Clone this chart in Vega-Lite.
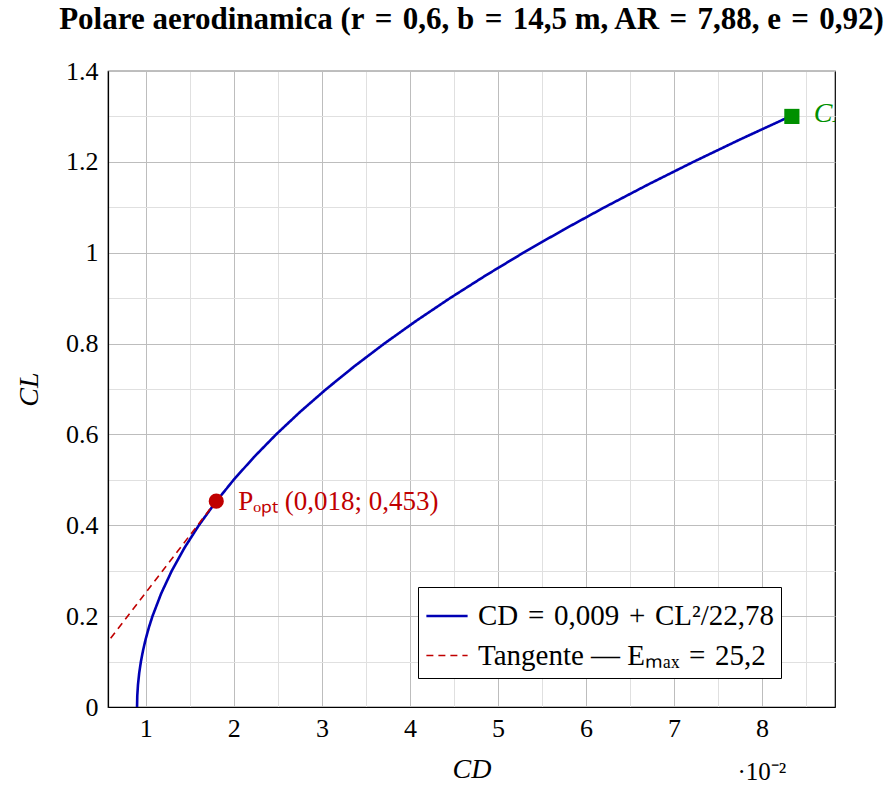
{
  "$schema": "https://vega.github.io/schema/vega-lite/v6.json",
  "autosize": {"type": "none"},
  "padding": {"left": 108, "top": 71, "right": 60, "bottom": 78},
  "width": 727,
  "height": 636,
  "background": "white",
  "config": {
    "font": "Liberation Serif",
    "view": {"stroke": "black", "strokeWidth": 1.2},
    "axis": {"labelFont": "Liberation Serif", "titleFont": "Liberation Serif"}
  },
  "title": {
    "text": "Polare aerodinamica (r\u2004=\u20040,6, b\u2004=\u200414,5 m, AR\u2004=\u20047,88, e\u2004=\u20040,92)",
    "font": "Liberation Serif",
    "fontSize": 31,
    "fontWeight": "bold",
    "anchor": "middle",
    "offset": 22,
    "color": "black",
    "limit": 0
  },
  "datasets": {
    "curves": [
      {"series": "CD\u2004=\u20040,009\u2004+\u2004CL²/22,78", "CL": 0, "CD": 0.009},
      {"series": "CD\u2004=\u20040,009\u2004+\u2004CL²/22,78", "CL": 0.025, "CD": 0.009027},
      {"series": "CD\u2004=\u20040,009\u2004+\u2004CL²/22,78", "CL": 0.05, "CD": 0.00911},
      {"series": "CD\u2004=\u20040,009\u2004+\u2004CL²/22,78", "CL": 0.075, "CD": 0.009247},
      {"series": "CD\u2004=\u20040,009\u2004+\u2004CL²/22,78", "CL": 0.1, "CD": 0.009439},
      {"series": "CD\u2004=\u20040,009\u2004+\u2004CL²/22,78", "CL": 0.125, "CD": 0.009686},
      {"series": "CD\u2004=\u20040,009\u2004+\u2004CL²/22,78", "CL": 0.15, "CD": 0.009988},
      {"series": "CD\u2004=\u20040,009\u2004+\u2004CL²/22,78", "CL": 0.175, "CD": 0.010344},
      {"series": "CD\u2004=\u20040,009\u2004+\u2004CL²/22,78", "CL": 0.2, "CD": 0.010756},
      {"series": "CD\u2004=\u20040,009\u2004+\u2004CL²/22,78", "CL": 0.25, "CD": 0.011744},
      {"series": "CD\u2004=\u20040,009\u2004+\u2004CL²/22,78", "CL": 0.3, "CD": 0.012951},
      {"series": "CD\u2004=\u20040,009\u2004+\u2004CL²/22,78", "CL": 0.35, "CD": 0.014378},
      {"series": "CD\u2004=\u20040,009\u2004+\u2004CL²/22,78", "CL": 0.4, "CD": 0.016024},
      {"series": "CD\u2004=\u20040,009\u2004+\u2004CL²/22,78", "CL": 0.45, "CD": 0.017889},
      {"series": "CD\u2004=\u20040,009\u2004+\u2004CL²/22,78", "CL": 0.5, "CD": 0.019975},
      {"series": "CD\u2004=\u20040,009\u2004+\u2004CL²/22,78", "CL": 0.55, "CD": 0.022279},
      {"series": "CD\u2004=\u20040,009\u2004+\u2004CL²/22,78", "CL": 0.6, "CD": 0.024803},
      {"series": "CD\u2004=\u20040,009\u2004+\u2004CL²/22,78", "CL": 0.65, "CD": 0.027547},
      {"series": "CD\u2004=\u20040,009\u2004+\u2004CL²/22,78", "CL": 0.7, "CD": 0.03051},
      {"series": "CD\u2004=\u20040,009\u2004+\u2004CL²/22,78", "CL": 0.75, "CD": 0.033693},
      {"series": "CD\u2004=\u20040,009\u2004+\u2004CL²/22,78", "CL": 0.8, "CD": 0.037095},
      {"series": "CD\u2004=\u20040,009\u2004+\u2004CL²/22,78", "CL": 0.85, "CD": 0.040716},
      {"series": "CD\u2004=\u20040,009\u2004+\u2004CL²/22,78", "CL": 0.9, "CD": 0.044557},
      {"series": "CD\u2004=\u20040,009\u2004+\u2004CL²/22,78", "CL": 0.95, "CD": 0.048618},
      {"series": "CD\u2004=\u20040,009\u2004+\u2004CL²/22,78", "CL": 1.0, "CD": 0.052898},
      {"series": "CD\u2004=\u20040,009\u2004+\u2004CL²/22,78", "CL": 1.05, "CD": 0.057398},
      {"series": "CD\u2004=\u20040,009\u2004+\u2004CL²/22,78", "CL": 1.1, "CD": 0.062117},
      {"series": "CD\u2004=\u20040,009\u2004+\u2004CL²/22,78", "CL": 1.15, "CD": 0.067055},
      {"series": "CD\u2004=\u20040,009\u2004+\u2004CL²/22,78", "CL": 1.2, "CD": 0.072213},
      {"series": "CD\u2004=\u20040,009\u2004+\u2004CL²/22,78", "CL": 1.25, "CD": 0.077591},
      {"series": "CD\u2004=\u20040,009\u2004+\u2004CL²/22,78", "CL": 1.3, "CD": 0.083188},
      {"series": "Tangente — Eₘₐₓ\u2004=\u200425,2", "CL": 0.1512, "CD": 0.006},
      {"series": "Tangente — Eₘₐₓ\u2004=\u200425,2", "CL": 0.4536, "CD": 0.018}
    ],
    "opt": [{"CD": 0.018, "CL": 0.453, "label": "Pₒₚₜ (0,018; 0,453)"}],
    "cmax": [{"CD": 0.0834, "CL": 1.3, "label": "CL,max"}],
    "scale": [{"CD": 0.08, "CL": -0.142, "label": "·10⁻²"}]
  },
  "layer": [
    {
      "data": {"name": "curves"},
      "mark": {"type": "line", "clip": true},
      "encoding": {
        "x": {
          "field": "CD", "type": "quantitative",
          "scale": {"domain": [0.0057, 0.0883], "nice": false, "zero": false},
          "axis": {
            "title": "CD",
            "titleFontStyle": "italic",
            "titleFontWeight": "normal",
            "titleFontSize": 28,
            "titleColor": "black",
            "titlePadding": 14,
            "values": [0.005, 0.01, 0.015, 0.02, 0.025, 0.03, 0.035, 0.04, 0.045, 0.05, 0.055, 0.06, 0.065, 0.07, 0.075, 0.08, 0.085],
            "labelExpr": "abs(datum.value*100 - round(datum.value*100)) < 0.01 ? format(round(datum.value*100), 'd') : ''",
            "labelFontSize": 26,
            "labelColor": "black",
            "labelPadding": 8,
            "labelFlush": false,
            "labelOverlap": false,
            "ticks": false,
            "domainColor": "black",
            "domainWidth": 1.2,
            "grid": true,
            "gridColor": {"condition": {"test": "abs(datum.value*100 - round(datum.value*100)) < 0.01", "value": "#bdbdbd"}, "value": "#e0e0e0"},
            "gridWidth": 1
          }
        },
        "y": {
          "field": "CL", "type": "quantitative",
          "scale": {"domain": [0, 1.4], "nice": false},
          "axis": {
            "title": "CL",
            "titleFontStyle": "italic",
            "titleFontWeight": "normal",
            "titleFontSize": 28,
            "titleColor": "black",
            "titlePadding": 22,
            "values": [0, 0.1, 0.2, 0.3, 0.4, 0.5, 0.6, 0.7, 0.8, 0.9, 1.0, 1.1, 1.2, 1.3, 1.4],
            "labelExpr": "round(datum.value*10) % 2 == 0 ? format(round(datum.value*10)/10, '~g') : ''",
            "labelFontSize": 26,
            "labelColor": "black",
            "labelPadding": 10,
            "labelFlush": false,
            "labelOverlap": false,
            "ticks": false,
            "domainColor": "black",
            "domainWidth": 1.2,
            "grid": true,
            "gridColor": {"condition": {"test": "round(datum.value*10) % 2 == 0", "value": "#bdbdbd"}, "value": "#e0e0e0"},
            "gridWidth": 1
          }
        },
        "order": {"field": "CL", "type": "quantitative"},
        "color": {
          "field": "series", "type": "nominal",
          "scale": {"domain": ["CD\u2004=\u20040,009\u2004+\u2004CL²/22,78", "Tangente — Eₘₐₓ\u2004=\u200425,2"], "range": ["#0000b4", "#c00000"]},
          "legend": {
            "title": null,
            "orient": "none",
            "legendX": 310,
            "legendY": 516,
            "symbolType": "stroke",
            "symbolSize": 1700,
            "symbolStrokeWidth": 2.5,
            "labelFontSize": 29,
            "labelColor": "black",
            "labelFont": "Liberation Serif",
            "labelLimit": 0,
            "fillColor": "white",
            "strokeColor": "black",
            "padding": 7,
            "rowPadding": 3,
            "labelOffset": 9,
            "cornerRadius": 0
          }
        },
        "strokeDash": {
          "field": "series", "type": "nominal",
          "scale": {"domain": ["CD\u2004=\u20040,009\u2004+\u2004CL²/22,78", "Tangente — Eₘₐₓ\u2004=\u200425,2"], "range": [[1, 0], [7, 5]]},
          "legend": null
        },
        "strokeWidth": {
          "field": "series", "type": "nominal",
          "scale": {"domain": ["CD\u2004=\u20040,009\u2004+\u2004CL²/22,78", "Tangente — Eₘₐₓ\u2004=\u200425,2"], "range": [2.6, 1.6]},
          "legend": null
        }
      }
    },
    {
      "data": {"name": "opt"},
      "mark": {"type": "point", "shape": "circle", "filled": true, "size": 230, "color": "#c00000", "opacity": 1},
      "encoding": {
        "x": {"field": "CD", "type": "quantitative"},
        "y": {"field": "CL", "type": "quantitative"}
      }
    },
    {
      "data": {"name": "opt"},
      "mark": {"type": "text", "align": "left", "baseline": "middle", "dx": 22, "dy": 1, "fontSize": 27, "color": "#c00000", "font": "Liberation Serif"},
      "encoding": {
        "x": {"field": "CD", "type": "quantitative"},
        "y": {"field": "CL", "type": "quantitative"},
        "text": {"field": "label"}
      }
    },
    {
      "data": {"name": "cmax"},
      "mark": {"type": "square", "filled": true, "size": 230, "color": "#009000", "opacity": 1},
      "encoding": {
        "x": {"field": "CD", "type": "quantitative"},
        "y": {"field": "CL", "type": "quantitative"}
      }
    },
    {
      "data": {"name": "cmax"},
      "mark": {"type": "text", "align": "left", "baseline": "middle", "dx": 22, "dy": -2, "fontSize": 28, "fontStyle": "italic", "color": "#009000", "font": "Liberation Serif", "clip": true},
      "encoding": {
        "x": {"field": "CD", "type": "quantitative"},
        "y": {"field": "CL", "type": "quantitative"},
        "text": {"field": "label"}
      }
    },
    {
      "data": {"name": "scale"},
      "mark": {"type": "text", "align": "center", "baseline": "middle", "fontSize": 25, "color": "black", "font": "Liberation Serif", "clip": false},
      "encoding": {
        "x": {"field": "CD", "type": "quantitative"},
        "y": {"field": "CL", "type": "quantitative"},
        "text": {"field": "label"}
      }
    }
  ]
}
